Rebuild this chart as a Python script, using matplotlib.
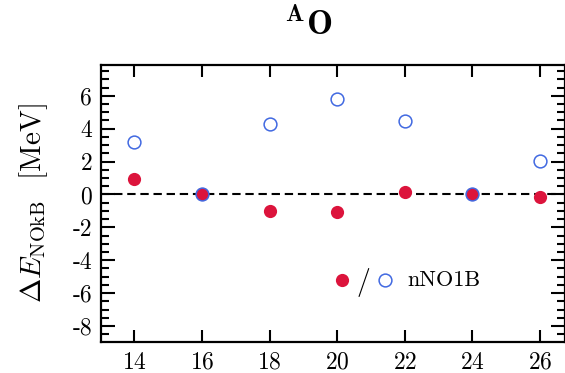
import numpy as np
import matplotlib
matplotlib.use('Agg')
import matplotlib.pyplot as plt
from matplotlib.ticker import MultipleLocator

plt.rcParams['font.family'] = 'cmr10'
plt.rcParams['mathtext.fontset'] = 'cm'
plt.rcParams['axes.unicode_minus'] = False
plt.rcParams['axes.formatter.use_mathtext'] = True

# neutron numbers and energy differences (MeV)
n_vals = [14, 16, 18, 20, 22, 24, 26]
de_filled = [0.91, 0.0, -1.03, -1.08, 0.14, 0.0, -0.16]
de_open = [3.18, 0.05, 4.28, 5.82, 4.48, 0.05, 2.05]

x_ticks = [14, 16, 18, 20, 22, 24, 26]
y_ticks = [-8, -6, -4, -2, 0, 2, 4, 6]
y_ticklabels = ['-8', '-6', '-4', '-2', '0', '2', '4', '6']

red = '#DC143C'
blue = '#4169E1'

fig = plt.figure(figsize=(5.65, 3.73), dpi=100)
ax = fig.add_axes([0.178, 0.084, 0.822, 0.743])

ax.axhline(0, color='black', linestyle=(0, (4, 2.3)), linewidth=1.5, zorder=1)
ax.plot(n_vals, de_filled, 'o', color=red, markersize=9.5, markeredgewidth=0, zorder=3)
ax.plot(n_vals, de_open, 'o', markerfacecolor='none', markeredgecolor=blue,
        markersize=9.2, markeredgewidth=1.1, zorder=4)

ax.set_xlim(13, 26.74)
ax.set_ylim(-8.95, 7.9)
ax.set_xticks(x_ticks)
ax.set_yticks(y_ticks)
ax.set_yticklabels(y_ticklabels)
ax.yaxis.set_minor_locator(MultipleLocator(0.5))

ax.tick_params(axis='both', which='both', direction='in', width=1.5, labelsize=17)
ax.tick_params(axis='x', which='major', length=8.5, top=True, bottom=True, pad=7)
ax.tick_params(axis='y', which='major', length=10, left=True, right=True, pad=6)
ax.tick_params(axis='y', which='minor', length=6, left=True, right=True)
for sp in ax.spines.values():
    sp.set_linewidth(1.6)

ax.set_ylabel(r'$\Delta E_{\rm NOkB}$  [MeV]', fontsize=21, labelpad=16)

fig.text(0.545, 0.935, r'$^{\mathbf{A}}\mathbf{O}$', fontsize=25,
         ha='center', va='center')

# hand-made legend
ax.plot([0.52], [0.223], 'o', color=red, markersize=9.5, markeredgewidth=0,
        transform=ax.transAxes, clip_on=False)
ax.text(0.566, 0.215, '/', fontsize=20, ha='center', va='center', transform=ax.transAxes)
ax.plot([0.612], [0.223], 'o', markerfacecolor='none', markeredgecolor=blue,
        markersize=9.2, markeredgewidth=1.1, transform=ax.transAxes, clip_on=False)
ax.text(0.66, 0.223, 'nNO1B', fontsize=16, ha='left', va='center', transform=ax.transAxes)

fig.savefig('out.png', dpi=100)
